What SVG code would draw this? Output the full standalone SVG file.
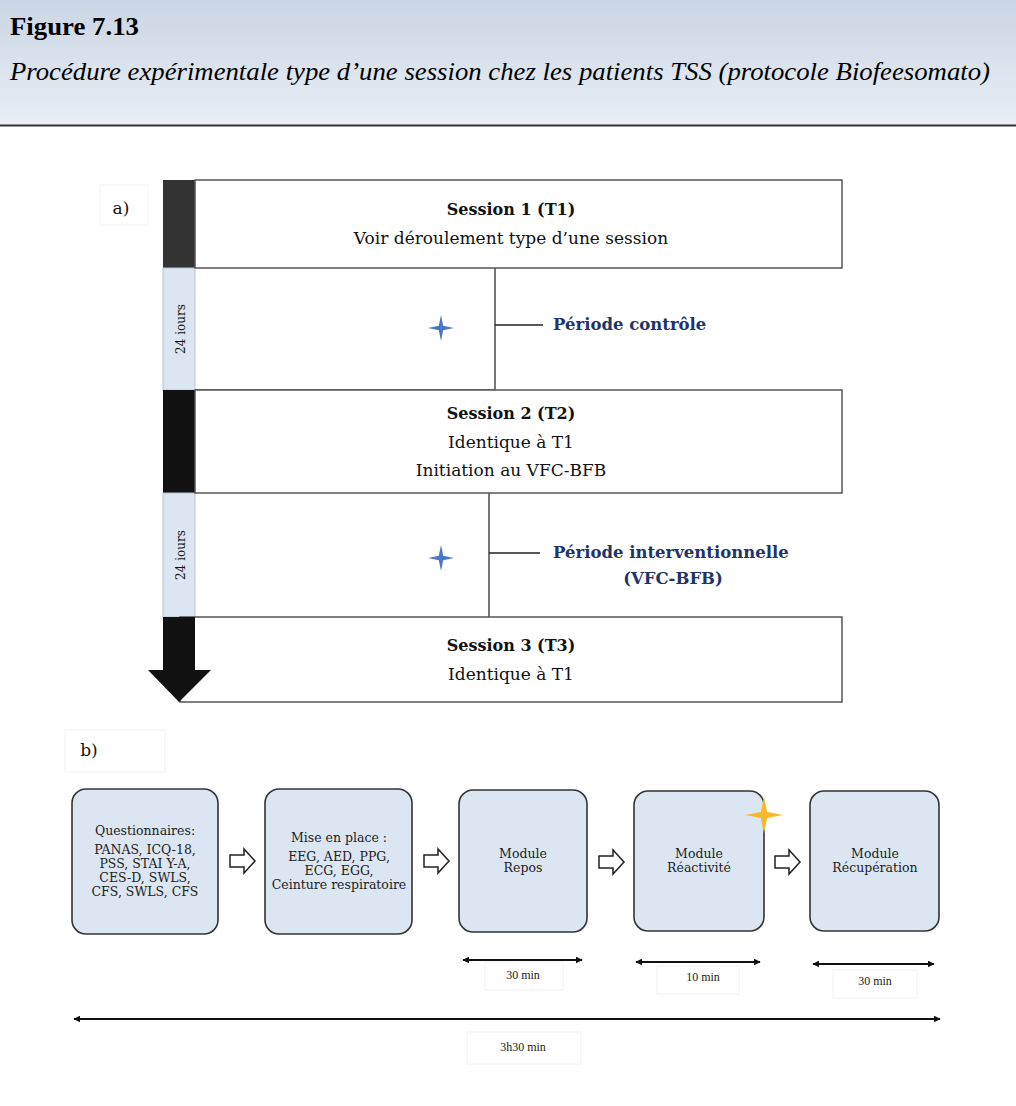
<svg xmlns="http://www.w3.org/2000/svg" width="1016" height="1106" viewBox="0 0 1016 1106">
<defs>
<linearGradient id="hdr" x1="0" y1="0" x2="0" y2="1">
<stop offset="0" stop-color="#cad6e4"/>
<stop offset="1" stop-color="#e9eef4"/>
</linearGradient>
<marker id="ah" viewBox="0 0 10 10" refX="9" refY="5" markerWidth="7" markerHeight="7" orient="auto-start-reverse" markerUnits="userSpaceOnUse">
<path d="M0,0 L10,5 L0,10 z" fill="#111"/>
</marker>
<path id="star" d="M0,-13 L2.2,-2.2 L13,0 L2.2,2.2 L0,13 L-2.2,2.2 L-13,0 L-2.2,-2.2 z"/>
<path id="oarrow" d="M0,-6 L14,-6 L14,-12 L25,0 L14,12 L14,6 L0,6 z"/>
</defs>
<style>
.sess{fill:#fff;stroke:#555;stroke-width:1.5}
.bar{fill:#111}
.days{fill:#dce6f2;stroke:#b8c4d2;stroke-width:1}
.ln{stroke:#555;stroke-width:1.6;fill:none}
.st{font-family:"DejaVu Serif","Liberation Serif",serif;font-size:16px;font-weight:bold;fill:#111;text-anchor:middle}
.sn{font-family:"DejaVu Serif","Liberation Serif",serif;font-size:17px;fill:#111;text-anchor:middle}
.per{font-family:"DejaVu Serif","Liberation Serif",serif;font-size:16.5px;font-weight:bold;fill:#1f3468}
.dj{font-family:"DejaVu Serif","Liberation Serif",serif;font-size:12px;fill:#111;text-anchor:middle}
.mod{fill:#dce6f2;stroke:#333;stroke-width:1.6}
.mt{font-family:"DejaVu Serif","Liberation Serif",serif;font-size:12.5px;fill:#222;text-anchor:middle}
.tl{font-family:"Liberation Serif","DejaVu Serif",serif;font-size:12px;fill:#222;text-anchor:middle}
.dim{stroke:#111;stroke-width:2;fill:none;marker-start:url(#ah);marker-end:url(#ah)}
.lbox{fill:#fff;stroke:#f2f2f2;stroke-width:1}
.oa{fill:#fff;stroke:#222;stroke-width:1.5}
</style>

<g id="header">
<rect x="0" y="0" width="1016" height="125" fill="url(#hdr)"/>
<line x1="0" y1="125.5" x2="1016" y2="125.5" stroke="#333" stroke-width="2"/>
<text x="10" y="35" font-family="Liberation Serif, serif" font-size="25" font-weight="bold" fill="#000" textLength="129" lengthAdjust="spacingAndGlyphs">Figure 7.13</text>
<text x="10" y="80" font-family="Liberation Serif, serif" font-size="26" font-style="italic" fill="#000" textLength="980" lengthAdjust="spacingAndGlyphs">Procédure expérimentale type d’une session chez les patients TSS (protocole Biofeesomato)</text>
</g>

<g id="label-a">
<rect x="100" y="185" width="48" height="40" class="lbox"/>
<text x="121" y="214" class="sn">a)</text>
</g>

<g id="timeline-bar">
<rect x="163" y="180" width="32" height="88" fill="#333"/>
<rect x="163" y="268" width="32" height="122" class="days"/>
<rect x="163" y="390" width="32" height="103" class="bar"/>
<rect x="163" y="493" width="32" height="124" class="days"/>
<text transform="translate(185,329) rotate(-90)" class="dj">24 iours</text>
<text transform="translate(185,555) rotate(-90)" class="dj">24 iours</text>
</g>

<g id="session1">
<rect x="195" y="180" width="647" height="88" class="sess"/>
<text x="511" y="215" class="st">Session 1 (T1)</text>
<text x="511" y="244" class="sn">Voir déroulement type d’une session</text>
</g>

<g id="periode-controle">
<line x1="195" y1="390" x2="495" y2="390" class="ln"/>
<line x1="495" y1="268" x2="495" y2="390" class="ln"/>
<use href="#star" x="441" y="328" fill="#4a78c8"/>
<line x1="495" y1="325" x2="543" y2="325" stroke="#222" stroke-width="1.3"/>
<text x="553" y="330" class="per">Période contrôle</text>
</g>

<g id="session2">
<rect x="195" y="390" width="647" height="103" class="sess"/>
<text x="511" y="419" class="st">Session 2 (T2)</text>
<text x="511" y="448" class="sn">Identique à T1</text>
<text x="511" y="476" class="sn">Initiation au VFC-BFB</text>
</g>

<g id="periode-interventionnelle">
<line x1="489" y1="493" x2="489" y2="617" class="ln"/>
<use href="#star" x="441" y="558" fill="#4a78c8"/>
<line x1="489" y1="553" x2="540" y2="553" stroke="#222" stroke-width="1.3"/>
<text x="553" y="558" class="per">Période interventionnelle</text>
<text x="673" y="584" class="per" text-anchor="middle">(VFC-BFB)</text>
</g>

<g id="session3">
<rect x="180" y="617" width="662" height="85" class="sess"/>
<rect x="163" y="617" width="32" height="53" class="bar"/>
<path d="M163,670 L211,670 L179,702 L148,670 z" class="bar"/>
<text x="511" y="651" class="st">Session 3 (T3)</text>
<text x="511" y="680" class="sn">Identique à T1</text>
</g>

<g id="label-b">
<rect x="65" y="730" width="100" height="42" class="lbox"/>
<text x="89" y="756" class="sn">b)</text>
</g>

<g id="questionnaires">
<rect x="72" y="789" width="146" height="145" rx="14" class="mod"/>
<text x="145" y="835" class="mt">Questionnaires:</text>
<text x="145" y="854" class="mt">PANAS, ICQ-18,</text>
<text x="145" y="868" class="mt">PSS, STAI Y-A,</text>
<text x="145" y="882" class="mt">CES-D, SWLS,</text>
<text x="145" y="896" class="mt">CFS, SWLS, CFS</text>
</g>

<g id="mise-en-place">
<rect x="265" y="789" width="147" height="145" rx="14" class="mod"/>
<text x="339" y="842" class="mt">Mise en place :</text>
<text x="339" y="861" class="mt">EEG, AED, PPG,</text>
<text x="339" y="875" class="mt">ECG, EGG,</text>
<text x="339" y="889" class="mt">Ceinture respiratoire</text>
</g>

<g id="module-repos">
<rect x="459" y="790" width="128" height="142" rx="14" class="mod"/>
<text x="523" y="858" class="mt">Module</text>
<text x="523" y="872" class="mt">Repos</text>
</g>

<g id="module-reactivite">
<rect x="634" y="791" width="130" height="140" rx="14" class="mod"/>
<text x="699" y="858" class="mt">Module</text>
<text x="699" y="872" class="mt">Réactivité</text>
<use href="#star" x="764" y="815" fill="#f7b82a" transform="translate(764,815) scale(1.45,1.4) translate(-764,-815)"/>
</g>

<g id="module-recuperation">
<rect x="810" y="791" width="129" height="140" rx="14" class="mod"/>
<text x="875" y="858" class="mt">Module</text>
<text x="875" y="872" class="mt">Récupération</text>
</g>

<g id="connectors">
<use href="#oarrow" x="230" y="861" class="oa"/>
<use href="#oarrow" x="424" y="861" class="oa"/>
<use href="#oarrow" x="599" y="862" class="oa"/>
<use href="#oarrow" x="775" y="862" class="oa"/>
</g>

<g id="durations">
<line x1="463" y1="960" x2="582" y2="960" class="dim"/>
<rect x="485" y="962" width="78" height="28" class="lbox"/>
<text x="523" y="979" class="tl">30 min</text>
<line x1="636" y1="962" x2="760" y2="962" class="dim"/>
<rect x="657" y="966" width="82" height="28" class="lbox"/>
<text x="703" y="981" class="tl">10 min</text>
<line x1="813" y1="964" x2="934" y2="964" class="dim"/>
<rect x="833" y="970" width="84" height="28" class="lbox"/>
<text x="875" y="985" class="tl">30 min</text>
<line x1="74" y1="1019" x2="940" y2="1019" class="dim"/>
<rect x="467" y="1032" width="114" height="32" class="lbox"/>
<text x="523" y="1051" class="tl">3h30 min</text>
</g>
</svg>
